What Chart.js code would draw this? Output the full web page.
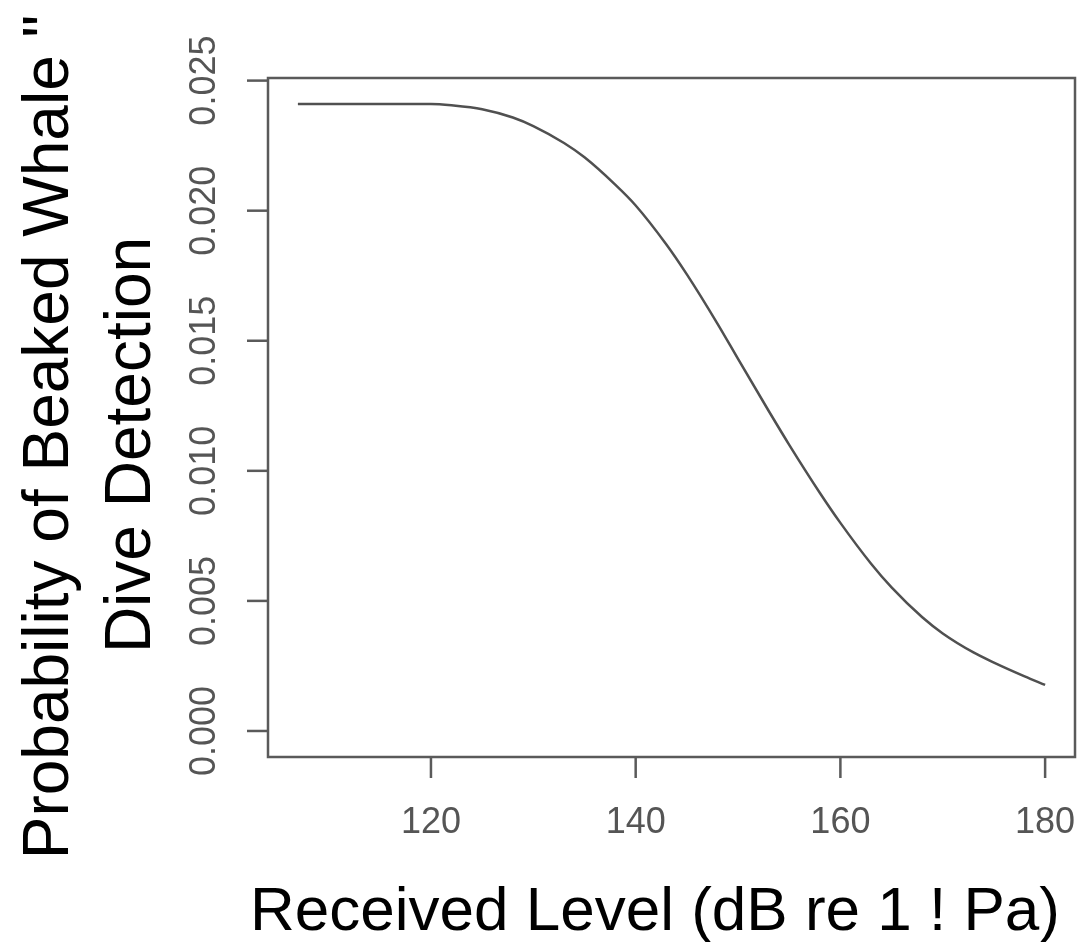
<!DOCTYPE html>
<html>
<head>
<meta charset="utf-8">
<script src="https://cdn.jsdelivr.net/npm/chart.js@4/dist/chart.umd.min.js"></script>
<style>
  html, body { margin: 0; padding: 0; background: #fff; }
  canvas { display: block; }
</style>
</head>
<body>
<canvas id="chart" width="1080" height="942"></canvas>
<script>
// received level (dB) and probability
const levels = [107, 110, 115, 120, 122, 125, 128, 130, 133, 135, 138, 140, 143, 145,
  148, 150, 153, 155, 158, 160, 163, 165, 168, 170, 173, 175, 178, 180];
const probability = [0.02410, 0.02410, 0.02410, 0.02410, 0.02405, 0.02390, 0.02358, 0.02325,
  0.02260, 0.02205, 0.02100, 0.02020, 0.01870, 0.01755, 0.01565, 0.01430, 0.01230, 0.01100,
  0.00915, 0.00800, 0.00643, 0.00552, 0.00437, 0.00375, 0.00302, 0.00263, 0.00210, 0.00177];

const xTicks = [120, 140, 160, 180];
const yTicks = [0, 0.005, 0.010, 0.015, 0.020, 0.025];
const yTickLabels = ['0.000', '0.005', '0.010', '0.015', '0.020', '0.025'];

const xTitle = 'Received Level (dB re 1 ! Pa)';
const yTitle = ['Probability of Beaked Whale "', 'Dive Detection'];

const axisColor = '#5a5a5a';
const labelColor = '#555';

// R style frame, ticks and labels drawn on top of the hidden scales
const rFrame = {
  id: 'rFrame',
  afterDraw(chart) {
    const { ctx, chartArea: a } = chart;
    const xs = chart.scales.x, ys = chart.scales.y;
    ctx.save();
    ctx.strokeStyle = axisColor;
    ctx.lineWidth = 2.5;
    ctx.strokeRect(a.left, a.top, a.right - a.left, a.bottom - a.top);

    ctx.fillStyle = labelColor;
    ctx.font = '36px "Liberation Sans", Arial, sans-serif';
    ctx.textAlign = 'center';
    ctx.textBaseline = 'middle';
    xTicks.forEach(v => {
      const px = xs.getPixelForValue(v);
      ctx.beginPath();
      ctx.moveTo(px, a.bottom);
      ctx.lineTo(px, a.bottom + 21);
      ctx.stroke();
      ctx.fillText(String(v), px, a.bottom + 66);
    });
    yTicks.forEach((v, i) => {
      const py = ys.getPixelForValue(v);
      ctx.beginPath();
      ctx.moveTo(a.left, py);
      ctx.lineTo(a.left - 21, py);
      ctx.stroke();
      ctx.save();
      ctx.translate(a.left - 63, py);
      ctx.rotate(-Math.PI / 2);
      ctx.fillText(yTickLabels[i], 0, 0);
      ctx.restore();
    });

    ctx.fillStyle = '#000';
    ctx.font = '62px "Liberation Sans", Arial, sans-serif';
    ctx.textBaseline = 'alphabetic';
    ctx.fillText(xTitle, 655, 930);

    ctx.save();
    ctx.translate(68, 437);
    ctx.rotate(-Math.PI / 2);
    ctx.font = '64px "Liberation Sans", Arial, sans-serif';
    ctx.fillText(yTitle[0], 0, 0);
    ctx.fillText(yTitle[1], -8, 82);
    ctx.restore();
    ctx.restore();
  }
};

new Chart(document.getElementById('chart'), {
  type: 'line',
  data: {
    labels: levels,
    datasets: [{
      data: levels.map((x, i) => ({ x: x, y: probability[i] })),
      borderColor: '#505050',
      borderWidth: 2.5,
      pointRadius: 0,
      fill: false,
      cubicInterpolationMode: 'monotone'
    }]
  },
  options: {
    responsive: false,
    animation: false,
    devicePixelRatio: 1,
    layout: { padding: { left: 268, right: 5, top: 78, bottom: 185 } },
    plugins: { legend: { display: false }, tooltip: { enabled: false } },
    scales: {
      x: { type: 'linear', display: false, min: 104.08, max: 182.92 },
      y: { type: 'linear', display: false, min: -0.001, max: 0.0251 }
    }
  },
  plugins: [rFrame]
});
</script>
</body>
</html>
